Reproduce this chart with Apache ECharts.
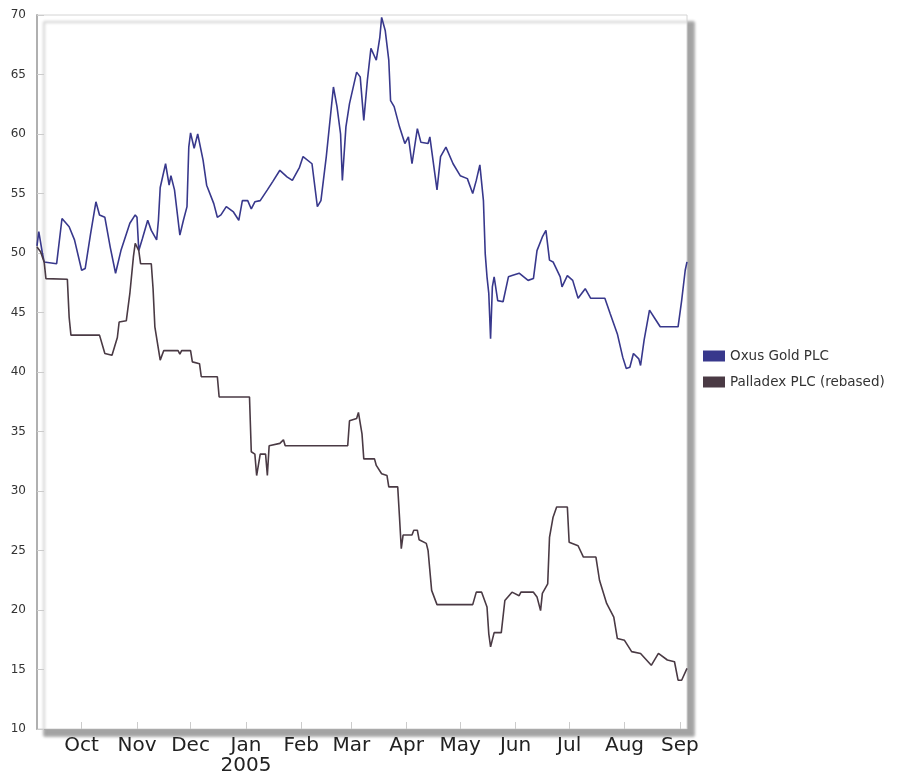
<!DOCTYPE html>
<html>
<head>
<meta charset="utf-8">
<script src="https://cdn.jsdelivr.net/npm/echarts@6/dist/echarts.min.js"></script>
<style>
html,body{margin:0;padding:0;background:#fff;}
#chart{width:915px;height:780px;}
</style>
</head>
<body>
<div id="chart"></div>
<script>
// ---- data ----
const seriesNames = ['Oxus Gold PLC', 'Palladex PLC (rebased)'];

const oxusDates = ['2004-09-06','2004-09-07','2004-09-09','2004-09-10','2004-09-17','2004-09-20','2004-09-24','2004-09-27',
 '2004-10-01','2004-10-03','2004-10-06','2004-10-09','2004-10-11','2004-10-14','2004-10-17','2004-10-20','2004-10-23','2004-10-28','2004-10-31',
 '2004-11-01','2004-11-02','2004-11-04','2004-11-07','2004-11-09','2004-11-12','2004-11-13','2004-11-14','2004-11-17','2004-11-19','2004-11-20','2004-11-22','2004-11-25','2004-11-27','2004-11-29','2004-11-30',
 '2004-12-01','2004-12-03','2004-12-05','2004-12-08','2004-12-10','2004-12-14','2004-12-16','2004-12-18','2004-12-21','2004-12-25','2004-12-28','2004-12-30',
 '2005-01-02','2005-01-04','2005-01-06','2005-01-09','2005-01-13','2005-01-16','2005-01-20','2005-01-24','2005-01-27','2005-01-31',
 '2005-02-02','2005-02-07','2005-02-10','2005-02-12','2005-02-15','2005-02-19','2005-02-21','2005-02-23','2005-02-24','2005-02-26','2005-02-28',
 '2005-03-01','2005-03-04','2005-03-06','2005-03-08','2005-03-10','2005-03-12','2005-03-15','2005-03-17','2005-03-18','2005-03-20','2005-03-22','2005-03-23','2005-03-25','2005-03-28','2005-03-31',
 '2005-04-02','2005-04-04','2005-04-07','2005-04-09','2005-04-13','2005-04-14','2005-04-18','2005-04-20','2005-04-23','2005-04-27',
 '2005-05-01','2005-05-05','2005-05-08','2005-05-10','2005-05-12','2005-05-14','2005-05-15','2005-05-16','2005-05-17','2005-05-18','2005-05-19','2005-05-20','2005-05-22','2005-05-25','2005-05-28','2005-05-30',
 '2005-06-03','2005-06-08','2005-06-11','2005-06-13','2005-06-16','2005-06-18','2005-06-20','2005-06-22','2005-06-26','2005-06-27','2005-06-30',
 '2005-07-03','2005-07-06','2005-07-10','2005-07-13','2005-07-21','2005-07-24','2005-07-28','2005-07-31',
 '2005-08-02','2005-08-04','2005-08-06','2005-08-09','2005-08-10','2005-08-12','2005-08-15','2005-08-18','2005-08-21','2005-08-31',
 '2005-09-02','2005-09-04','2005-09-05'];
const oxusValues = [50.6,51.8,50.0,49.25,49.1,52.9,52.2,51.1,
 48.55,48.7,51.6,54.3,53.2,53.0,50.5,48.3,50.2,52.5,53.2,
 53.0,50.2,51.2,52.75,51.9,51.1,52.75,55.5,57.5,55.7,56.5,55.3,51.5,52.75,53.9,58.9,
 60.1,58.8,60.0,57.8,55.7,54.15,53.0,53.2,53.9,53.45,52.75,54.4,
 54.4,53.7,54.3,54.4,55.3,56.0,56.95,56.4,56.1,57.2,
 58.1,57.5,53.9,54.4,58.1,63.95,62.3,60.0,56.1,60.6,62.55,
 62.4,65.2,64.8,61.15,64.5,67.2,66.2,68.15,69.8,68.7,66.2,62.8,62.3,60.6,59.2,
 59.75,57.5,60.45,59.3,59.2,59.75,55.3,58.1,58.9,57.5,
 56.5,56.25,55.0,56.1,57.4,54.4,49.95,48.0,46.6,42.8,47.15,48.0,46.0,45.9,48.0,48.1,
 48.3,47.7,47.85,50.2,51.35,51.9,49.4,49.25,48.0,47.15,48.1,
 47.7,46.2,47.0,46.2,46.2,44.9,43.2,41.25,
 40.3,40.4,41.55,41.1,40.55,42.7,45.2,44.5,43.8,43.8,
 46.0,48.55,49.25];

const palDates = ['2004-09-06','2004-09-08','2004-09-10','2004-09-11','2004-09-23','2004-09-24','2004-09-25',
 '2004-10-11','2004-10-14','2004-10-18','2004-10-21','2004-10-22','2004-10-26','2004-10-28','2004-10-30','2004-10-31',
 '2004-11-02','2004-11-03','2004-11-09','2004-11-10','2004-11-11','2004-11-14','2004-11-16','2004-11-24','2004-11-25','2004-11-26',
 '2004-12-01','2004-12-02','2004-12-06','2004-12-07','2004-12-16','2004-12-17',
 '2005-01-03','2005-01-04','2005-01-06','2005-01-07','2005-01-09','2005-01-12','2005-01-13','2005-01-14','2005-01-20','2005-01-22','2005-01-23',
 '2005-02-27','2005-02-28',
 '2005-03-04','2005-03-05','2005-03-07','2005-03-08','2005-03-14','2005-03-15','2005-03-18','2005-03-21','2005-03-22','2005-03-27','2005-03-28','2005-03-29','2005-03-30',
 '2005-04-04','2005-04-05','2005-04-07','2005-04-08','2005-04-12','2005-04-13','2005-04-15','2005-04-18',
 '2005-05-08','2005-05-10','2005-05-13','2005-05-16','2005-05-17','2005-05-18','2005-05-20','2005-05-24','2005-05-26','2005-05-30',
 '2005-06-03','2005-06-04','2005-06-11','2005-06-13','2005-06-15','2005-06-16','2005-06-19','2005-06-20','2005-06-22','2005-06-24','2005-06-30',
 '2005-07-01','2005-07-06','2005-07-09','2005-07-16','2005-07-18','2005-07-22','2005-07-26','2005-07-28',
 '2005-08-01','2005-08-05','2005-08-10','2005-08-16','2005-08-20','2005-08-25','2005-08-29','2005-08-31',
 '2005-09-02','2005-09-05'];
const palValues = [50.5,50.1,49.25,47.85,47.8,44.6,43.1,
 43.1,41.55,41.4,42.9,44.2,44.3,46.6,49.7,50.8,
 50.2,49.1,49.1,47.0,43.8,41.0,41.8,41.8,41.5,41.8,
 41.8,40.85,40.7,39.6,39.6,37.9,
 37.9,33.3,33.1,31.3,33.1,33.1,31.3,33.8,34.0,34.3,33.8,
 33.8,35.9,
 36.1,36.6,34.8,32.7,32.7,32.15,31.45,31.3,30.35,30.35,27.8,25.15,26.3,
 26.3,26.7,26.7,25.9,25.6,25.0,21.65,20.45,
 20.45,21.5,21.5,20.25,18.0,16.9,18.1,18.1,20.8,21.5,
 21.2,21.5,21.5,21.1,19.95,21.4,22.2,26.1,27.8,28.65,28.65,
 25.7,25.4,24.45,24.45,22.5,20.55,19.4,17.6,
 17.45,16.5,16.35,15.35,16.35,15.8,15.65,14.1,
 14.1,15.1];

const axisStart = '2004-09-06';
const axisEnd = '2005-09-05';
const monthTicks = ['2004-10-01','2004-11-01','2004-12-01','2005-01-01','2005-02-01','2005-03-01','2005-04-01','2005-05-01','2005-06-01','2005-07-01','2005-08-01','2005-09-01'];
const monthLabels = ['Oct','Nov','Dec','Jan\n2005','Feb','Mar','Apr','May','Jun','Jul','Aug','Sep'];
const yMin = 10, yMax = 70, yStep = 5;

// ---- helpers ----
const DAY = 86400000;
function ts(s){ const p = s.split('-'); return Date.UTC(+p[0], +p[1]-1, +p[2]); }
function pairs(dates, vals){ return dates.map((d,i)=>[ts(d), vals[i]]); }
const tickTs = monthTicks.map(ts);
function labelFor(v){
  for (let i = 0; i < tickTs.length; i++) {
    if (Math.abs(tickTs[i] - v) < DAY / 2) return monthLabels[i];
  }
  return '';
}

const chart = echarts.init(document.getElementById('chart'));
chart.setOption({
  useUTC: true,
  animation: false,
  backgroundColor: '#fff',
  textStyle: { fontFamily: 'DejaVu Sans' },
  grid: {
    left: 37, top: 15, right: 228, bottom: 51,
    show: true,
    backgroundColor: '#fff',
    borderColor: '#d4d4d4',
    borderWidth: 1,
    shadowColor: 'rgba(0,0,0,0.36)',
    shadowBlur: 3,
    shadowOffsetX: 7,
    shadowOffsetY: 7
  },
  legend: {
    orient: 'vertical',
    left: 698, top: 344,
    itemWidth: 22, itemHeight: 11, itemGap: 12,
    icon: 'rect',
    textStyle: { fontSize: 13.5, color: '#333', fontFamily: 'DejaVu Sans' },
    data: seriesNames
  },
  xAxis: {
    type: 'time',
    min: ts(axisStart), max: ts(axisEnd),
    splitNumber: 12,
    minInterval: 28 * DAY,
    maxInterval: 31 * DAY,
    axisLine: { show: true, lineStyle: { color: '#aaa', width: 1 } },
    axisTick: { show: true, inside: true, length: 7, lineStyle: { color: '#ccc' } },
    splitLine: { show: false },
    axisLabel: {
      showMinLabel: false,
      showMaxLabel: false,
      hideOverlap: false,
      margin: 7,
      fontSize: 20,
      lineHeight: 20,
      color: '#222',
      fontFamily: 'DejaVu Sans',
      formatter: function(v){ return labelFor(v); }
    }
  },
  yAxis: {
    type: 'value',
    min: yMin, max: yMax, interval: yStep,
    axisLine: { show: true, lineStyle: { color: '#b0b0b0', width: 2 } },
    axisTick: { show: true, inside: true, length: 7, lineStyle: { color: '#ccc' } },
    splitLine: { show: false },
    axisLabel: { fontSize: 12, color: '#333', margin: 11, fontFamily: 'DejaVu Sans' }
  },
  series: [
    {
      name: seriesNames[0], type: 'line', showSymbol: false, symbol: 'none',
      data: pairs(oxusDates, oxusValues),
      lineStyle: { color: '#38388c', width: 1.6 },
      itemStyle: { color: '#38388c' }
    },
    {
      name: seriesNames[1], type: 'line', showSymbol: false, symbol: 'none',
      data: pairs(palDates, palValues),
      lineStyle: { color: '#4a3a44', width: 1.6 },
      itemStyle: { color: '#4a3a44' }
    }
  ]
});
</script>
</body>
</html>
